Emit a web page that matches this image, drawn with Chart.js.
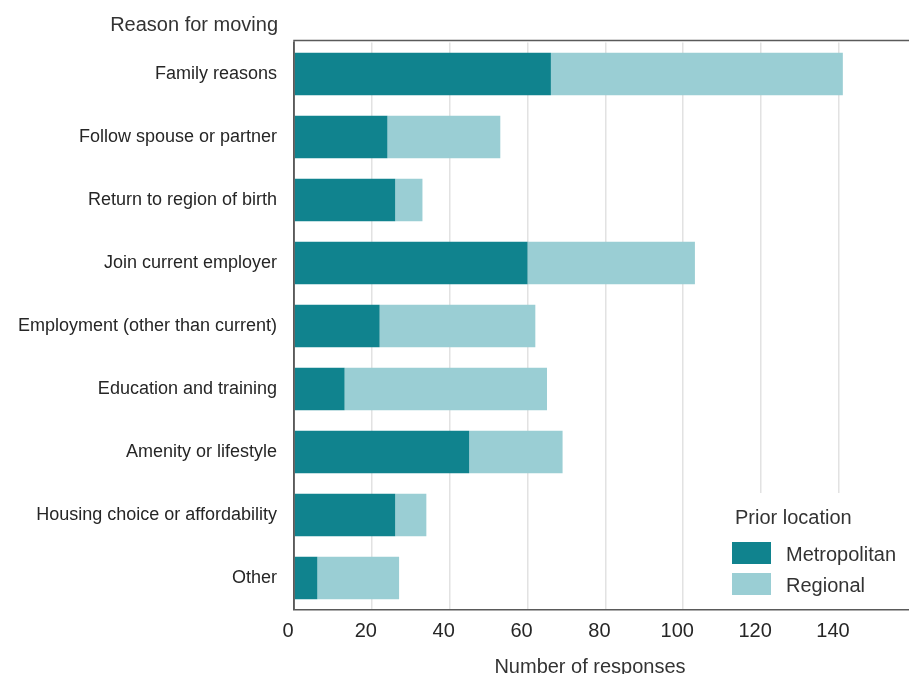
<!DOCTYPE html>
<html>
<head>
<meta charset="utf-8">
<script src="https://cdn.jsdelivr.net/npm/chart.js@4"></script>
<style>
  html, body { margin: 0; padding: 0; background: #ffffff; }
  canvas { display: block; }
</style>
</head>
<body>
<canvas id="c" width="909" height="674"></canvas>
<script>
const categories = [
  "Family reasons",
  "Follow spouse or partner",
  "Return to region of birth",
  "Join current employer",
  "Employment (other than current)",
  "Education and training",
  "Amenity or lifestyle",
  "Housing choice or affordability",
  "Other"
];
const metropolitan = [66, 24, 26, 60, 22, 13, 45, 26, 6];
const regional = [75, 29, 7, 43, 40, 52, 24, 8, 21];
const xTicks = [0, 20, 40, 60, 80, 100, 120, 140];
const seriesNames = ["Metropolitan", "Regional"];
const axisTitleY = "Reason for moving";
const axisTitleX = "Number of responses";
const legendTitle = "Prior location";

const FONT = "'Liberation Sans', Arial, sans-serif";
const TEXT = "#262626";

const extras = {
  id: "extras",
  beforeDatasetsDraw(chart) {
    // white legend panel covering gridlines (drawn before bars and axis borders)
    const ctx = chart.ctx;
    const a = chart.chartArea;
    ctx.save();
    ctx.fillStyle = "#ffffff";
    ctx.fillRect(716, 493, 193, a.bottom - 493 - 0.5);
    ctx.restore();
  },
  afterDraw(chart) {
    const ctx = chart.ctx;
    const a = chart.chartArea;
    ctx.save();
    // top border of plot box and left edge up to it
    ctx.strokeStyle = "#5a5a5a";
    ctx.lineWidth = 1.5;
    ctx.beginPath();
    ctx.moveTo(a.left, a.bottom);
    ctx.lineTo(a.left, 40.5);
    ctx.lineTo(a.right, 40.5);
    ctx.stroke();

    // y axis title (top-left)
    ctx.fillStyle = "#333333";
    ctx.font = "20px " + FONT;
    ctx.textAlign = "right";
    ctx.textBaseline = "alphabetic";
    ctx.fillText(axisTitleY, a.left - 16, 31);

    // x axis title
    ctx.textAlign = "center";
    ctx.fillText(axisTitleX, 590, 673);

    // legend
    ctx.fillStyle = "#333333";
    ctx.textAlign = "left";
    ctx.font = "20px " + FONT;
    ctx.fillText(legendTitle, 735, 524);
    chart.data.datasets.forEach((ds, i) => {
      ctx.fillStyle = ds.backgroundColor;
      ctx.fillRect(732, 542 + i * 31, 39, 22);
      ctx.fillStyle = "#333333";
      ctx.fillText(ds.label, 786, 561 + i * 31);
    });
    ctx.restore();
  }
};

new Chart(document.getElementById("c"), {
  type: "bar",
  data: {
    labels: categories,
    datasets: [
      {
        label: seriesNames[0],
        data: metropolitan,
        backgroundColor: "#10838E",
        barPercentage: 0.675,
        categoryPercentage: 1
      },
      {
        label: seriesNames[1],
        data: regional,
        backgroundColor: "#9ACED4",
        barPercentage: 0.675,
        categoryPercentage: 1
      }
    ]
  },
  options: {
    indexAxis: "y",
    responsive: false,
    devicePixelRatio: 1,
    animation: false,
    layout: { padding: { top: 42.5, right: 0, bottom: 0, left: 0 } },
    plugins: {
      legend: { display: false },
      tooltip: { enabled: false },
      title: { display: false }
    },
    scales: {
      y: {
        stacked: true,
        afterFit(s) { s.width = 294; },
        grid: { display: false, drawTicks: false },
        border: { display: true, color: "#5a5a5a", width: 1.5 },
        ticks: {
          font: { family: FONT, size: 18 },
          color: TEXT,
          padding: 17
        }
      },
      x: {
        stacked: true,
        min: 0,
        max: 158,
        afterFit(s) { s.height = 64.5; },
        afterBuildTicks(s) { s.ticks = xTicks.map(v => ({ value: v })); },
        grid: { color: "#e2e2e2", lineWidth: 1.5, drawTicks: false },
        border: { display: true, color: "#5a5a5a", width: 1.5 },
        ticks: {
          font: { family: FONT, size: 20 },
          color: TEXT,
          padding: 10,
          labelOffset: -6,
          maxRotation: 0
        }
      }
    }
  },
  plugins: [extras]
});
</script>
</body>
</html>
